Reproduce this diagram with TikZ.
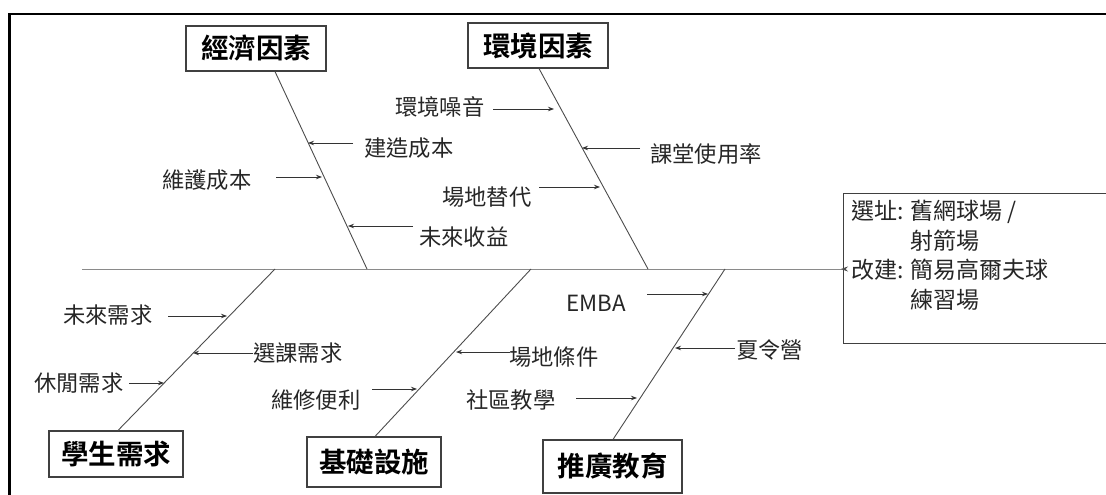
\documentclass[tikz,border=0pt]{standalone}
\usepackage{fontspec}
\setmainfont{Noto Sans CJK TC}[BoldFont={Noto Sans CJK TC Bold}]
\usetikzlibrary{arrows.meta}
\begin{document}
\begin{tikzpicture}[x=1pt,y=-1pt,
  cat/.style={draw=black!75, line width=1.1pt, minimum width=140pt, minimum height=45pt, inner sep=0pt, font=\fontsize{27.5}{30}\selectfont\bfseries},
  lbl/.style={anchor=west, inner sep=0pt, font=\fontsize{22.3}{26}\selectfont, text=black!85},
  bone/.style={draw=black!70, line width=0.9pt},
  arr/.style={draw=black!80, line width=0.9pt, -{Stealth[length=6pt,width=4.5pt]}},
]
\useasboundingbox (0,0) rectangle (1106,495);
% outer frame (cut off at right and bottom)
\draw[line width=2.6pt] (1130,14) -- (9.5,14) -- (9.5,520);

% category boxes
\node[cat] (econ) at (256,48.5) {經濟因素};
\node[cat] (envi) at (538,45.5) {環境因素};
\node[cat, minimum width=134pt, minimum height=46pt] (stud) at (116,454) {學生需求};
\node[cat, minimum width=134pt, minimum height=50pt] (infra) at (374,462) {基礎設施};
\node[cat, minimum width=139pt, minimum height=53pt] (promo) at (612.5,466.5) {推廣教育};

% result box
\node[draw=black!75, line width=1pt, anchor=north west, minimum width=300pt, minimum height=150pt, inner sep=0pt] (res) at (843,193) {};
\node[anchor=north west, inner sep=0pt, align=left, font=\fontsize{23}{29.5}\selectfont, text=black!85] (restext) at (851,200)
  {選址: 舊網球場 /\\\phantom{選址: }射箭場\\改建: 簡易高爾夫球\\\phantom{改建: }練習場};

% spine
\coordinate (spL) at (82,269);
\draw[draw=black!70, line width=0.9pt, -{Stealth[length=7pt,width=5pt]}] (spL) -- (res.west |- spL) -- ++(-2,0);

% bone junctions on spine
\coordinate (jE) at (367,269);
\coordinate (jV) at (648,269);
\coordinate (jS) at (275,269);
\coordinate (jI) at (531,269);
\coordinate (jP) at (725,269);
\draw[bone] (econ.south -| 275,0) -- (jE);
\draw[bone] (envi.south -| 539,0) -- (jV);
\draw[bone] (jS) -- (stud.north -| 118,0);
\draw[bone] (jI) -- (infra.north -| 375,0);
\draw[bone] (jP) -- (promo.north -| 613,0);

% cause labels
\node[lbl] (l1) at (395,107) {環境噪音};
\node[lbl] (l2) at (364,148) {建造成本};
\node[lbl] (l3) at (162,180) {維護成本};
\node[lbl] (l4) at (650,154) {課堂使用率};
\node[lbl] (l5) at (442,197) {場地替代};
\node[lbl] (l6) at (419,237) {未來收益};
\node[lbl] (l7) at (63,315) {未來需求};
\node[lbl] (l8) at (253,353) {選課需求};
\node[lbl] (l9) at (34,383) {休閒需求};
\node[lbl] (l10) at (271,400) {維修便利};
\node[lbl] (l11) at (509,357) {場地條件};
\node[lbl] (l12) at (466,400) {社區教學};
\node[lbl] (l13) at (566,303) {EMBA};
\node[lbl] (l14) at (736,350) {夏令營};

% arrow end points
\coordinate (s1) at (493,109);  \coordinate (t1) at (554,109);
\coordinate (s2) at (353,143);  \coordinate (t2) at (308,143);
\coordinate (s3) at (276,177);  \coordinate (t3) at (322,177);
\coordinate (s4) at (640,148);  \coordinate (t4) at (582,148);
\coordinate (s5) at (539,187);  \coordinate (t5) at (600,187);
\coordinate (s6) at (413,226);  \coordinate (t6) at (348,226);
\coordinate (s7) at (168,316);  \coordinate (t7) at (227,316);
\coordinate (s8) at (253,353);  \coordinate (t8) at (193,353);
\coordinate (s9) at (129,383);  \coordinate (t9) at (164,383);
\coordinate (s10) at (372,389); \coordinate (t10) at (417,389);
\coordinate (s11) at (510,352); \coordinate (t11) at (456,352);
\coordinate (s12) at (576,398); \coordinate (t12) at (637,398);
\coordinate (s13) at (647,294); \coordinate (t13) at (708,294);
\coordinate (s14) at (735,348); \coordinate (t14) at (675,348);
\foreach \i in {1,...,14} {\draw[arr] (s\i) -- (t\i);}
\end{tikzpicture}
\end{document}
